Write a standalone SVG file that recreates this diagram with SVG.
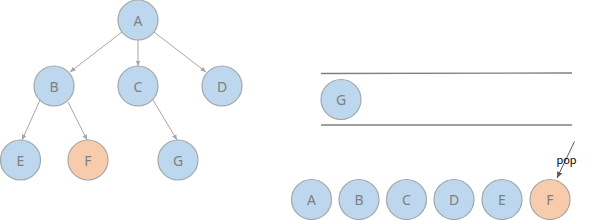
<svg xmlns="http://www.w3.org/2000/svg" width="592" height="220" viewBox="0 0 592 220">
<defs>
<style>
.n circle{stroke:#A6A6A6;stroke-width:1.2}
.b{fill:#BDD7EE}
.o{fill:#F8CBAD}
.n text{font-family:"Noto Sans","Open Sans",sans-serif;font-size:14px;fill:#7F7F7F;text-anchor:middle;dominant-baseline:central}
.e line{stroke:#A6A6A6;stroke-width:1;marker-end:url(#ah)}
.s{stroke:#7F7F7F;stroke-width:1.3}
</style>
<marker id="ah" viewBox="0 0 10 10" refX="9" refY="5" markerWidth="6" markerHeight="6" orient="auto" markerUnits="userSpaceOnUse">
<path d="M0,1 L9,5 L0,9 z" fill="#A6A6A6"/>
</marker>
<marker id="ahd" viewBox="0 0 10 10" refX="9" refY="5" markerWidth="7" markerHeight="7" orient="auto" markerUnits="userSpaceOnUse">
<path d="M0,1 L9,5 L0,9 z" fill="#595959"/>
</marker>
</defs>
<g id="connectors" class="e">
<line x1="122" y1="32" x2="70" y2="72"/>
<line x1="138" y1="40" x2="138" y2="66"/>
<line x1="154" y1="32" x2="206" y2="72"/>
<line x1="40" y1="100" x2="22" y2="140"/>
<line x1="68" y1="102" x2="87" y2="140"/>
<line x1="153" y1="100" x2="177" y2="140"/>
</g>
<g id="node-A" class="n"><circle class="b" cx="138" cy="20" r="20"/><text x="138" y="20">A</text></g>
<g id="node-B" class="n"><circle class="b" cx="54" cy="86" r="20"/><text x="54" y="86">B</text></g>
<g id="node-C" class="n"><circle class="b" cx="138" cy="86" r="20"/><text x="138" y="86">C</text></g>
<g id="node-D" class="n"><circle class="b" cx="222" cy="86" r="20"/><text x="222" y="86">D</text></g>
<g id="node-E" class="n"><circle class="b" cx="20.5" cy="160" r="20"/><text x="20.5" y="160">E</text></g>
<g id="node-F" class="n"><circle class="o" cx="88" cy="160" r="20"/><text x="88" y="160">F</text></g>
<g id="node-G" class="n"><circle class="b" cx="178" cy="160" r="20"/><text x="178" y="160">G</text></g>
<g id="stack">
<line class="s" x1="321" y1="73.5" x2="572" y2="73"/>
<line class="s" x1="321" y1="125" x2="572" y2="125"/>
</g>
<g id="stack-G" class="n"><circle class="b" cx="341" cy="99.5" r="20"/><text x="341" y="99.5">G</text></g>
<g id="out-A" class="n"><circle class="b" cx="311.5" cy="199.5" r="20"/><text x="311.5" y="199.5">A</text></g>
<g id="out-B" class="n"><circle class="b" cx="359" cy="199.5" r="20"/><text x="359" y="199.5">B</text></g>
<g id="out-C" class="n"><circle class="b" cx="406.5" cy="199.5" r="20"/><text x="406.5" y="199.5">C</text></g>
<g id="out-D" class="n"><circle class="b" cx="454" cy="199.5" r="20"/><text x="454" y="199.5">D</text></g>
<g id="out-E" class="n"><circle class="b" cx="502" cy="199.5" r="20"/><text x="502" y="199.5">E</text></g>
<g id="out-F" class="n"><circle class="o" cx="550" cy="199.5" r="20"/><text x="550" y="199.5">F</text></g>
<g id="pop">
<line x1="574.5" y1="141.5" x2="557" y2="178" stroke="#595959" stroke-width="1" marker-end="url(#ahd)"/>
<text x="566.5" y="164" font-family="Noto Sans,Open Sans,sans-serif" font-size="11" fill="#000" text-anchor="middle">pop</text>
</g>
</svg>
